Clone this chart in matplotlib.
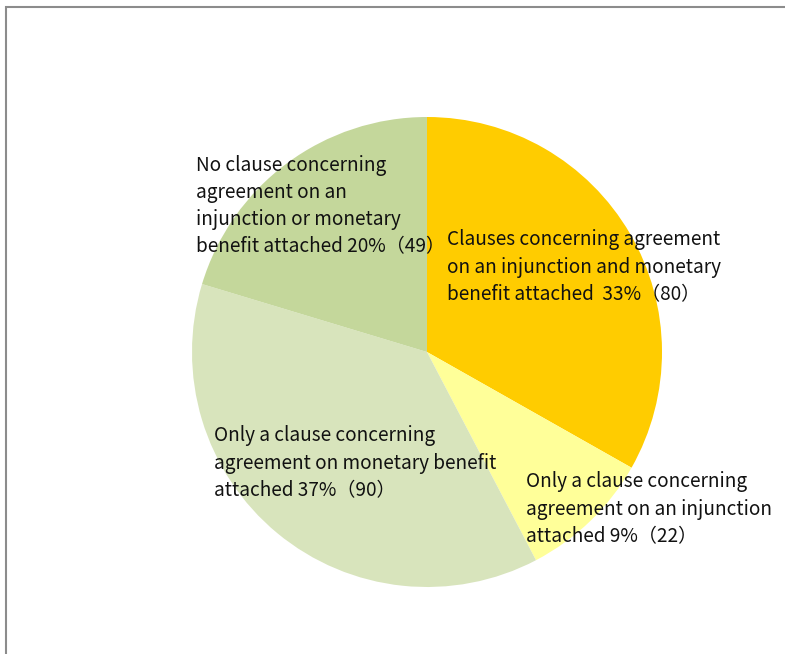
import matplotlib.pyplot as plt
from matplotlib.patches import Rectangle

counts = [80, 22, 90, 49]
percents = [33, 9, 37, 20]
colors = ['#FFCC00', '#FFFF99', '#D8E4BC', '#C4D79B']
labels = [
    'Clauses concerning agreement\non an injunction and monetary\nbenefit attached  {}%（{}）',
    'Only a clause concerning\nagreement on an injunction\nattached {}%（{}）',
    'Only a clause concerning\nagreement on monetary benefit\nattached {}%（{}）',
    'No clause concerning\nagreement on an\ninjunction or monetary\nbenefit attached {}%（{}）',
]

W, H = 785, 654
fig = plt.figure(figsize=(W / 100, H / 100), dpi=100)
ax = fig.add_axes([0, 0, 1, 1])

ax.pie(counts, colors=colors, startangle=90, counterclock=False,
       center=(427, H - 352), radius=235, wedgeprops=dict(linewidth=0),
       frame=True)
ax.set_xlim(0, W)
ax.set_ylim(0, H)
ax.set_aspect('equal')
ax.axis('off')

# outer chart frame (only top and left visible in the crop)
fig.patches.append(Rectangle((6 / W, -0.1), 1.2, (H - 7) / H + 0.1,
                             transform=fig.transFigure, fill=False,
                             edgecolor='#8C8C8C', linewidth=1.5))

# label positions (left x, vertical centre) in pixels
label_pos = [(447, 267), (526, 509), (214, 463), (196, 206)]
font = ['Noto Sans CJK JP', 'DejaVu Sans']
for lab, p, c, (x, y) in zip(labels, percents, counts, label_pos):
    ax.text(x, H - y, lab.format(p, c), ha='left', va='center',
            fontsize=13.7, family=font, linespacing=1.39, color='#111111')

fig.savefig('out.png', dpi=100)
